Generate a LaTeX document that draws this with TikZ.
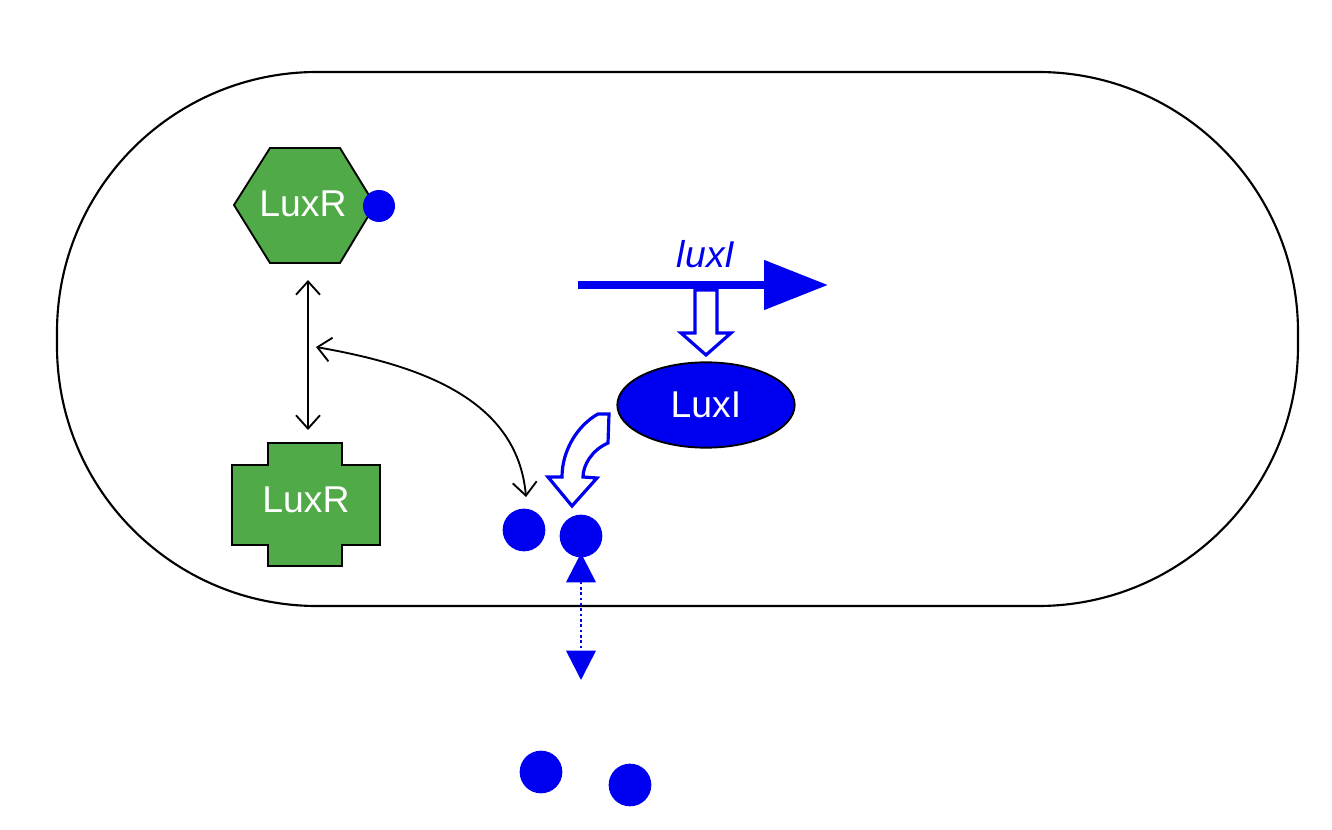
\documentclass[tikz,border=0pt]{standalone}
\usepackage{fontspec}
\setmainfont{Liberation Sans}
\usetikzlibrary{arrows.meta,positioning,shapes.geometric}
\definecolor{luxgreen}{RGB}{80,170,72}
\definecolor{luxblue}{RGB}{0,0,240}
\tikzset{
  ahl/.style={circle,fill=luxblue,inner sep=0pt,minimum size=32pt},
  lbl/.style={text=white,font=\fontsize{28}{30}\selectfont},
  bidir/.style={{Straight Barb[length=10pt,width=18pt]}-{Straight Barb[length=10pt,width=18pt]},line width=1.4pt},
}
\begin{document}
\begin{tikzpicture}[x=0.75pt,y=-0.75pt]
		\useasboundingbox (0,0) rectangle (1332,830);
		% cell
		\draw[line width=1.6pt,rounded corners=195pt] (57,72) rectangle (1298,606);

		% LuxR with AHL
		\draw[fill=luxgreen,line width=1.4pt] (234,205) -- (270,148) -- (340,148) -- (375,205) -- (340,263) -- (270,263) -- cycle;
		\node[lbl] (rbound) at (303,204) {LuxR};
		\node[ahl,minimum size=24pt] (abound) at (379,206) {};

		% free LuxR
		\draw[fill=luxgreen,line width=1.4pt] (268,443) -- (342,443) -- (342,465) -- (380,465) -- (380,545) -- (342,545) -- (342,566) -- (268,566) -- (268,545) -- (232,545) -- (232,465) -- (268,465) -- cycle;
		\node[lbl] (rfree) at (306,500) {LuxR};

		\coordinate (rtop) at (308,280);
		\coordinate (rbot) at (308,430);
		\coordinate (rmid) at (316,347);
		\draw[bidir] (rtop) -- (rbot);

		% AHL inside and outside
		\node[ahl] (a1) at (524,530) {};
		\node[ahl] (a2) at (581,536) {};
		\node[ahl] (a3) at (541,772) {};
		\node[ahl] (a4) at (630,785) {};
		\coordinate (a1top) at (526,497);
		\draw[bidir] (rmid) to[out=-10,in=95] (a1top);

		% luxI gene
		\coordinate (gs) at (578,285);
		\coordinate (ge) at (828,285);
		\draw[luxblue,line width=6pt,-{Triangle[length=48pt,width=36pt]}] (gs) -- (ge);
		\node[text=luxblue,font=\fontsize{28}{30}\selectfont\itshape] (gene) at (706,254) {luxI};

		% LuxI
		\node[ellipse,draw=black,fill=luxblue,line width=1.4pt,minimum width=133pt,minimum height=64pt,lbl] (synth) at (706,405) {LuxI};
		\path[draw=luxblue,line width=2.4pt,fill=white] (695,290) -- (717,290) -- (717,333) -- (731,333) -- (706,355) -- (681,333) -- (695,333) -- cycle;
		\path[draw=luxblue,line width=2.4pt,fill=white] (598,414) -- (609,414) -- (608,443) .. controls (592,450) and (583,465) .. (583,477) -- (597,478) -- (572,506) -- (548,477) -- (562,477) .. controls (562,450) and (578,425) .. (598,414) -- cycle;

		% diffusion
		\draw[luxblue,line width=2pt,dotted,{Triangle[length=22pt,width=22pt]}-{Triangle[length=22pt,width=22pt]}] (a2) ++(0,17) coordinate (dtop) -- (581,680) coordinate (dbot);
	\end{tikzpicture}
\end{document}
